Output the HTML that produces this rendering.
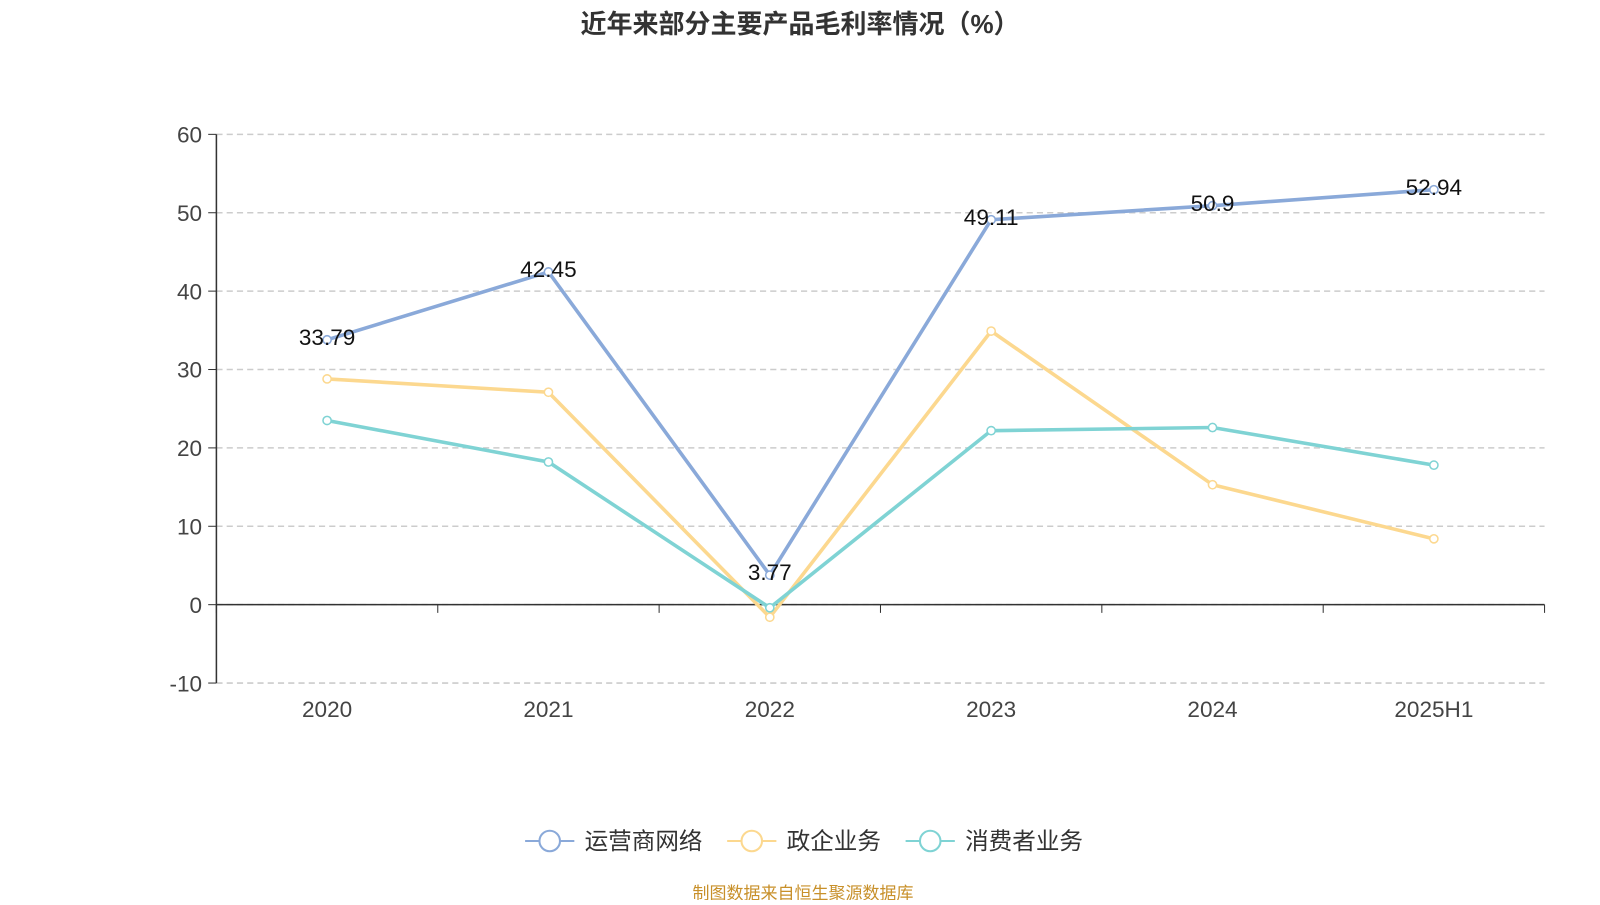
<!DOCTYPE html>
<html><head><meta charset="utf-8">
<style>
body{margin:0;background:#fff;width:1600px;height:900px;overflow:hidden;font-family:"Liberation Sans","Noto Sans CJK SC",sans-serif;}
</style></head>
<body>
<svg id="chart" width="1600" height="900" xmlns="http://www.w3.org/2000/svg" font-family="Liberation Sans, Noto Sans CJK SC, sans-serif">
<text x="800" y="33" text-anchor="middle" font-size="26" font-weight="bold" fill="#333">近年来部分主要产品毛利率情况（%）</text>
<g transform="scale(1.0256)">
<g id="grid"></g><g id="axes"></g><g id="series"></g><g id="labels"></g>
<g id="legend"></g>
</g>
<text x="803" y="899" text-anchor="middle" font-size="17" fill="#c8902a">制图数据来自恒生聚源数据库</text>
</svg>
<script>
const categories=["2020","2021","2022","2023","2024","2025H1"];
const seriesNames=["运营商网络","政企业务","消费者业务"];
const operatorValues=[33.79,42.45,3.77,49.11,50.9,52.94];
const enterpriseValues=[28.8,27.1,-1.6,34.9,15.3,8.4];
const consumerValues=[23.5,18.2,-0.4,22.2,22.6,17.8];
const yTicks=[-10,0,10,20,30,40,50,60];
const colors=["#8aa9d9","#fcd88f","#7fd3d4"];
const NS="http://www.w3.org/2000/svg";
const L=211,R=1506,T=131,B=666;
function y(v){return B-(v+10)/70*(B-T);}
function x(i){const w=(R-L)/categories.length;return L+w*(i+0.5);}
function mk(tag,attrs,parent){const e=document.createElementNS(NS,tag);for(const k in attrs)e.setAttribute(k,attrs[k]);document.getElementById(parent).appendChild(e);return e;}
yTicks.forEach(t=>{
 const g=mk('line',{x1:L,x2:R,y1:y(t),y2:y(t),stroke:'#ccc','stroke-dasharray':'6,4','stroke-width':1.5},'grid');
 
 
 const tk=mk('line',{x1:L-8,x2:L,y1:y(t),y2:y(t),stroke:'#333'},'axes');
 
 
 const tx=mk('text',{x:L-14,y:y(t)+8,'text-anchor':'end','font-size':22,fill:'#444'},'axes');
 tx.textContent=t;
 
 
});
const ya=mk('line',{x1:L,x2:L,y1:T,y2:B,stroke:'#333','stroke-width':1.5},'axes');


const xa=mk('line',{x1:L,x2:R,y1:y(0),y2:y(0),stroke:'#333','stroke-width':1.5},'axes');


const bw=(R-L)/categories.length;
for(let i=0;i<=categories.length;i++){
 const t=mk('line',{x1:L+bw*i,x2:L+bw*i,y1:y(0),y2:y(0)+8,stroke:'#333'},'axes');
 
 
}
categories.forEach((c,i)=>{
 const t=mk('text',{x:x(i),y:699,'text-anchor':'middle','font-size':22,fill:'#444'},'axes');
 t.textContent=c;
 
 
});
[operatorValues,enterpriseValues,consumerValues].forEach((vals,s)=>{
 const p=mk('polyline',{points:vals.map((v,i)=>x(i)+','+y(v)).join(' '),fill:'none',stroke:colors[s],'stroke-width':3.5},'series');
 
 
 vals.forEach((v,i)=>{
  const c=mk('circle',{cx:x(i),cy:y(v),r:4,fill:'#fff',stroke:colors[s],'stroke-width':1.5},'series');
  
  
 });
});
operatorValues.forEach((v,i)=>{
 const t=mk('text',{x:x(i),y:y(v)+5,'text-anchor':'middle','font-size':22,fill:'#111'},'labels');
 t.textContent=v;
 
 
});
const lx=[512,709,883];
seriesNames.forEach((n,s)=>{
 const l=mk('line',{x1:lx[s],x2:lx[s]+48,y1:820,y2:820,stroke:colors[s],'stroke-width':2},'legend');
 
 
 const c=mk('circle',{cx:lx[s]+24,cy:820,r:10,fill:'#fff',stroke:colors[s],'stroke-width':2},'legend');
 
 
 const t=mk('text',{x:lx[s]+58,y:828,'font-size':23,fill:'#333'},'legend');
 t.textContent=n;
 
 
});
</script>
</body></html>
